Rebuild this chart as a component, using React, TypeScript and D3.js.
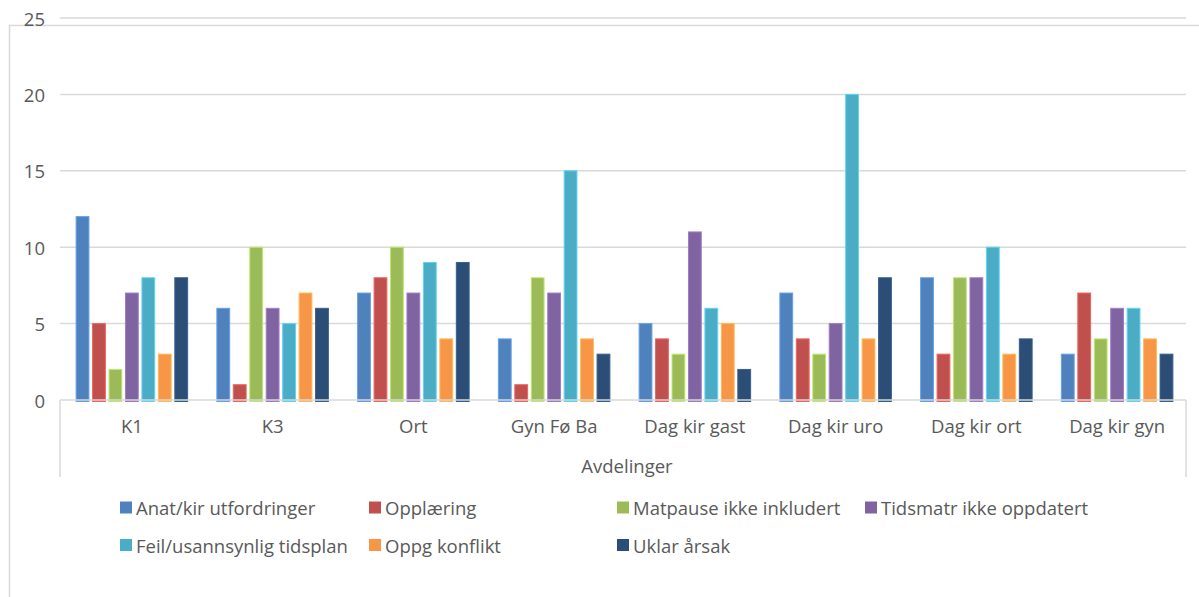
import React from "react";
import * as d3 from "d3";

const categories = ["K1", "K3", "Ort", "Gyn Fø Ba", "Dag kir gast", "Dag kir uro", "Dag kir ort", "Dag kir gyn"];

const seriesNames = [
  "Anat/kir utfordringer",
  "Opplæring",
  "Matpause ikke inkludert",
  "Tidsmatr ikke oppdatert",
  "Feil/usannsynlig tidsplan",
  "Oppg konflikt",
  "Uklar årsak",
];

const seriesColors = ["#4F81BD", "#C0504D", "#9BBB59", "#8064A2", "#4BACC6", "#F79646", "#2C4D75"];

// values per series, one entry per department
const anatKir = [12, 6, 7, 4, 5, 7, 8, 3];
const opplaering = [5, 1, 8, 1, 4, 4, 3, 7];
const matpause = [2, 10, 10, 8, 3, 3, 8, 4];
const tidsmatr = [7, 6, 7, 7, 11, 5, 8, 6];
const feilTidsplan = [8, 5, 9, 15, 6, 20, 10, 6];
const oppgKonflikt = [3, 7, 4, 4, 5, 4, 3, 4];
const uklarArsak = [8, 6, 9, 3, 2, 8, 4, 3];

const seriesValues = [anatKir, opplaering, matpause, tidsmatr, feilTidsplan, oppgKonflikt, uklarArsak];

const yTicks = [0, 5, 10, 15, 20, 25];

const W = 1199;
const H = 597;
const plotLeft = 60;
const plotRight = 1186;
const yTop = 18;
const yZero = 400;

const FONT = "'Open Sans', sans-serif";
const FS = 18.5;
const TEXT = "#595959";
const GRID = "#d9d9d9";

export default function App() {
  const x = d3.scaleBand<string>().domain(categories).range([plotLeft, plotRight]).padding(0);
  const y = d3.scaleLinear().domain([0, 25]).range([yZero, yTop]);

  const step = 16.45;
  const barW = 12.8;
  const groupW = step * (seriesNames.length - 1) + barW;
  const inner = d3
    .scaleBand<number>()
    .domain(d3.range(seriesNames.length))
    .range([0, step * seriesNames.length])
    .padding(0);

  const legendCols = [120, 369, 617, 865];
  const legendRows = [507.5, 545];
  const legendItems = seriesNames.map((name, i) => ({
    name,
    color: seriesColors[i],
    col: i < 4 ? i : i - 4,
    row: i < 4 ? 0 : 1,
  }));

  return (
    <svg
      width={W}
      height={H}
      style={{ position: "absolute", left: 0, top: 0, background: "#fff" }}
      fontFamily={FONT}
    >
      {/* chart frame */}
      <rect x={9.5} y={25.5} width={1400} height={800} fill="none" stroke={GRID} strokeWidth={1.5} />

      {/* gridlines */}
      {yTicks
        .filter((t) => t > 0)
        .map((t) => (
          <line key={t} x1={plotLeft} x2={plotRight} y1={y(t)} y2={y(t)} stroke={GRID} strokeWidth={1.5} />
        ))}

      {/* y tick labels */}
      {yTicks.map((t) => (
        <text
          key={t}
          x={45}
          y={y(t)}
          textAnchor="end"
          dominantBaseline="central"
          fontSize={FS}
          fill={TEXT}
        >
          {t}
        </text>
      ))}

      {/* bars */}
      {categories.map((c, ci) => {
        const gx = (x(c) as number) + (x.bandwidth() - groupW) / 2 + 1.5;
        return (
          <g key={c}>
            {seriesValues.map((vals, si) => {
              const bx = gx + (inner(si) as number);
              const top = y(vals[ci]);
              const col = d3.color(seriesColors[si])!.brighter(0.6).formatHex();
              return (
                <rect
                  key={si}
                  x={bx}
                  y={top}
                  width={barW}
                  height={yZero + 1.5 - top}
                  fill={seriesColors[si]}
                  stroke={col}
                  strokeWidth={1}
                />
              );
            })}
          </g>
        );
      })}

      {/* category axis */}
      <line x1={plotLeft} x2={plotRight} y1={yZero} y2={yZero} stroke={GRID} strokeWidth={1.5} />
      <line x1={plotLeft} x2={plotLeft} y1={yZero} y2={477} stroke={GRID} strokeWidth={1.5} />
      <line x1={plotRight} x2={plotRight} y1={yZero} y2={477} stroke={GRID} strokeWidth={1.5} />

      {categories.map((c) => (
        <text
          key={c}
          x={(x(c) as number) + x.bandwidth() / 2 + 1.5}
          y={433}
          textAnchor="middle"
          fontSize={FS}
          fill={TEXT}
        >
          {c}
        </text>
      ))}

      <text x={(plotLeft + plotRight) / 2 + 4} y={472.5} textAnchor="middle" fontSize={FS} fill={TEXT}>
        Avdelinger
      </text>

      {/* legend */}
      {legendItems.map((it) => {
        const lx = legendCols[it.col];
        const ly = legendRows[it.row];
        return (
          <g key={it.name}>
            <rect x={lx} y={ly - 6} width={12} height={12} fill={it.color} />
            <text x={lx + 16} y={ly} dominantBaseline="central" fontSize={FS} fill={TEXT}>
              {it.name}
            </text>
          </g>
        );
      })}
    </svg>
  );
}
